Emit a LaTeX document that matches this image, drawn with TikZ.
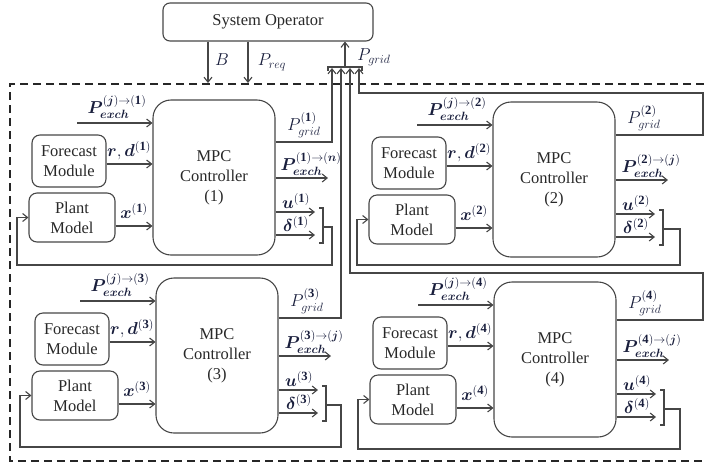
\documentclass[tikz,border=0pt]{standalone}
\usepackage{amsmath,bm}
\usepackage{fontspec}
\setmainfont{Liberation Serif}
\newfontfamily\boxfont{Liberation Serif}
\usetikzlibrary{arrows.meta}
\definecolor{linecol}{RGB}{70,70,70}
\definecolor{labcol}{RGB}{25,30,60}
\definecolor{txtcol}{RGB}{40,40,40}
\tikzset{
  ln/.style={draw=linecol, line width=1.1pt},
  arr/.style={ln, -{Straight Barb[length=5pt,width=8pt]}},
  mpcbox/.style={ln, rounded corners=18pt, minimum width=122pt, minimum height=155pt, align=center, inner sep=0pt, text=txtcol, font=\boxfont\fontsize{16.5}{20}\selectfont},
  modbox/.style={ln, rounded corners=8pt, minimum width=74pt, minimum height=52pt, align=center, inner sep=0pt, text=txtcol, font=\boxfont\fontsize{16.5}{20}\selectfont},
  lab/.style={text=labcol, inner sep=0pt, font=\fontsize{18}{20}\selectfont},
  frame/.style={draw=black!85, line width=1.6pt, dash pattern=on 8pt off 5pt}
}
% #1 dx, #2 dy, #3 index, #4 out superscript, #5 feedback x, #6 feedback y, #7 grid y
\newcommand{\mgunit}[7]{%
\begin{scope}[shift={(#1,#2)}]
  \node[mpcbox] (mpc#3) at (214,177.5) {MPC\\Controller\\(#3)};
  \node[modbox] (fc#3) at (69,161) {Forecast\\Module};
  \node[modbox, minimum width=86pt, minimum height=49pt] (pm#3) at (72,217.5) {Plant\\Model};
  % inputs
  \coordinate (ein#3) at (77,123);
  \draw[arr] (ein#3) -- (ein#3 -| mpc#3.west);
  \node[lab] (lein#3) at (117,107) {$\bm{P}^{(\bm{j})\to(\mathbf{#3})}_{\bm{exch}}$};
  \coordinate (rdy#3) at (0,164);
  \draw[arr] (fc#3.east |- rdy#3) -- (mpc#3.west |- rdy#3);
  \node[lab] (lrd#3) at (129,151) {$\bm{r},\bm{d}^{(\mathbf{#3})}$};
  \coordinate (xy#3) at (0,226);
  \draw[arr] (pm#3.east |- xy#3) -- (mpc#3.west |- xy#3);
  \node[lab] (lx#3) at (134,211) {$\bm{x}^{(\mathbf{#3})}$};
  % outputs
  \coordinate (gy#3) at (0,#7);
  \node[lab] (lg#3) at (304,#7-17) {$P^{(\mathbf{#3})}_{grid}$};
  \coordinate (eo#3) at (328,178);
  \draw[arr] (mpc#3.east |- eo#3) -- (eo#3);
  \node[lab] (leo#3) at (311,164) {$\bm{P}^{#4}_{\bm{exch}}$};
  \coordinate (uo#3) at (315,212);
  \draw[arr] (mpc#3.east |- uo#3) -- (uo#3);
  \node[lab] (lu#3) at (296,201) {$\bm{u}^{(\mathbf{#3})}$};
  \coordinate (do#3) at (315,235);
  \draw[arr] (mpc#3.east |- do#3) -- (do#3);
  \node[lab] (ld#3) at (296,224) {$\bm{\delta}^{(\mathbf{#3})}$};
  % bracket and feedback
  \draw[ln] (319,208) -- (323,208) -- (323,243) -- (319,243);
  \coordinate (bk#3) at (323,227);
  \coordinate (fb#3) at (#5,#6);
  \coordinate (fl#3) at (17,#6);
  \draw[arr] (bk#3) -| (fb#3) -- (fl#3) |- (pm#3.west);
\end{scope}}
\begin{document}
\begin{tikzpicture}[x=1pt,y=-1pt]
  \useasboundingbox (0,0) rectangle (704,467);
  % system operator
  \node[modbox, minimum width=210pt, minimum height=38pt, rounded corners=7pt] (so) at (268,22) {System Operator};
  \coordinate (bx) at (208,83);
  \coordinate (px) at (248,83);
  \draw[arr] (so.south -| bx) -- (bx);
  \draw[arr] (so.south -| px) -- (px);
  \node[lab] (lb) at (222,60) {$B$};
  \node[lab] (lp) at (272,62) {$P_{req}$};
  % collector bracket
  \draw[ln] (328,71) -- (328,67) -- (362,67) -- (362,71);
  \coordinate (bm) at (345,67);
  \draw[arr] (bm) -- (so.south -| bm);
  \node[lab] (lpg) at (374,57) {$P_{grid}$};
  % frame
  \draw[frame] (704,84) -- (10,84) -- (10,461) -- (704,461);
  % units
  \mgunit{0}{0}{1}{(\mathbf{1})\to(\bm{n})}{332}{265}{142}
  \mgunit{340}{2}{2}{(\mathbf{2})\to(\bm{j})}{340}{263}{133}
  \mgunit{3}{178}{3}{(\mathbf{3})\to(\bm{j})}{338}{269}{140}
  \mgunit{341}{182}{4}{(\mathbf{4})\to(\bm{j})}{339}{267}{138}
  % grid power lines to the collector
  \coordinate (t1) at (332,68);
  \coordinate (t2) at (341,68);
  \coordinate (t3) at (350,68);
  \coordinate (t4) at (359,68);
  \coordinate (r3) at (703,273);
  \coordinate (r4) at (703,93);
  \draw[arr] (mpc1.east |- gy1) -| (t1);
  \draw[arr] (mpc3.east |- gy3) -| (t2);
  \draw[arr] (mpc4.east |- gy4) -| (r3) -| (t3);
  \draw[arr] (mpc2.east |- gy2) -| (r4) -| (t4);
\end{tikzpicture}
\end{document}
